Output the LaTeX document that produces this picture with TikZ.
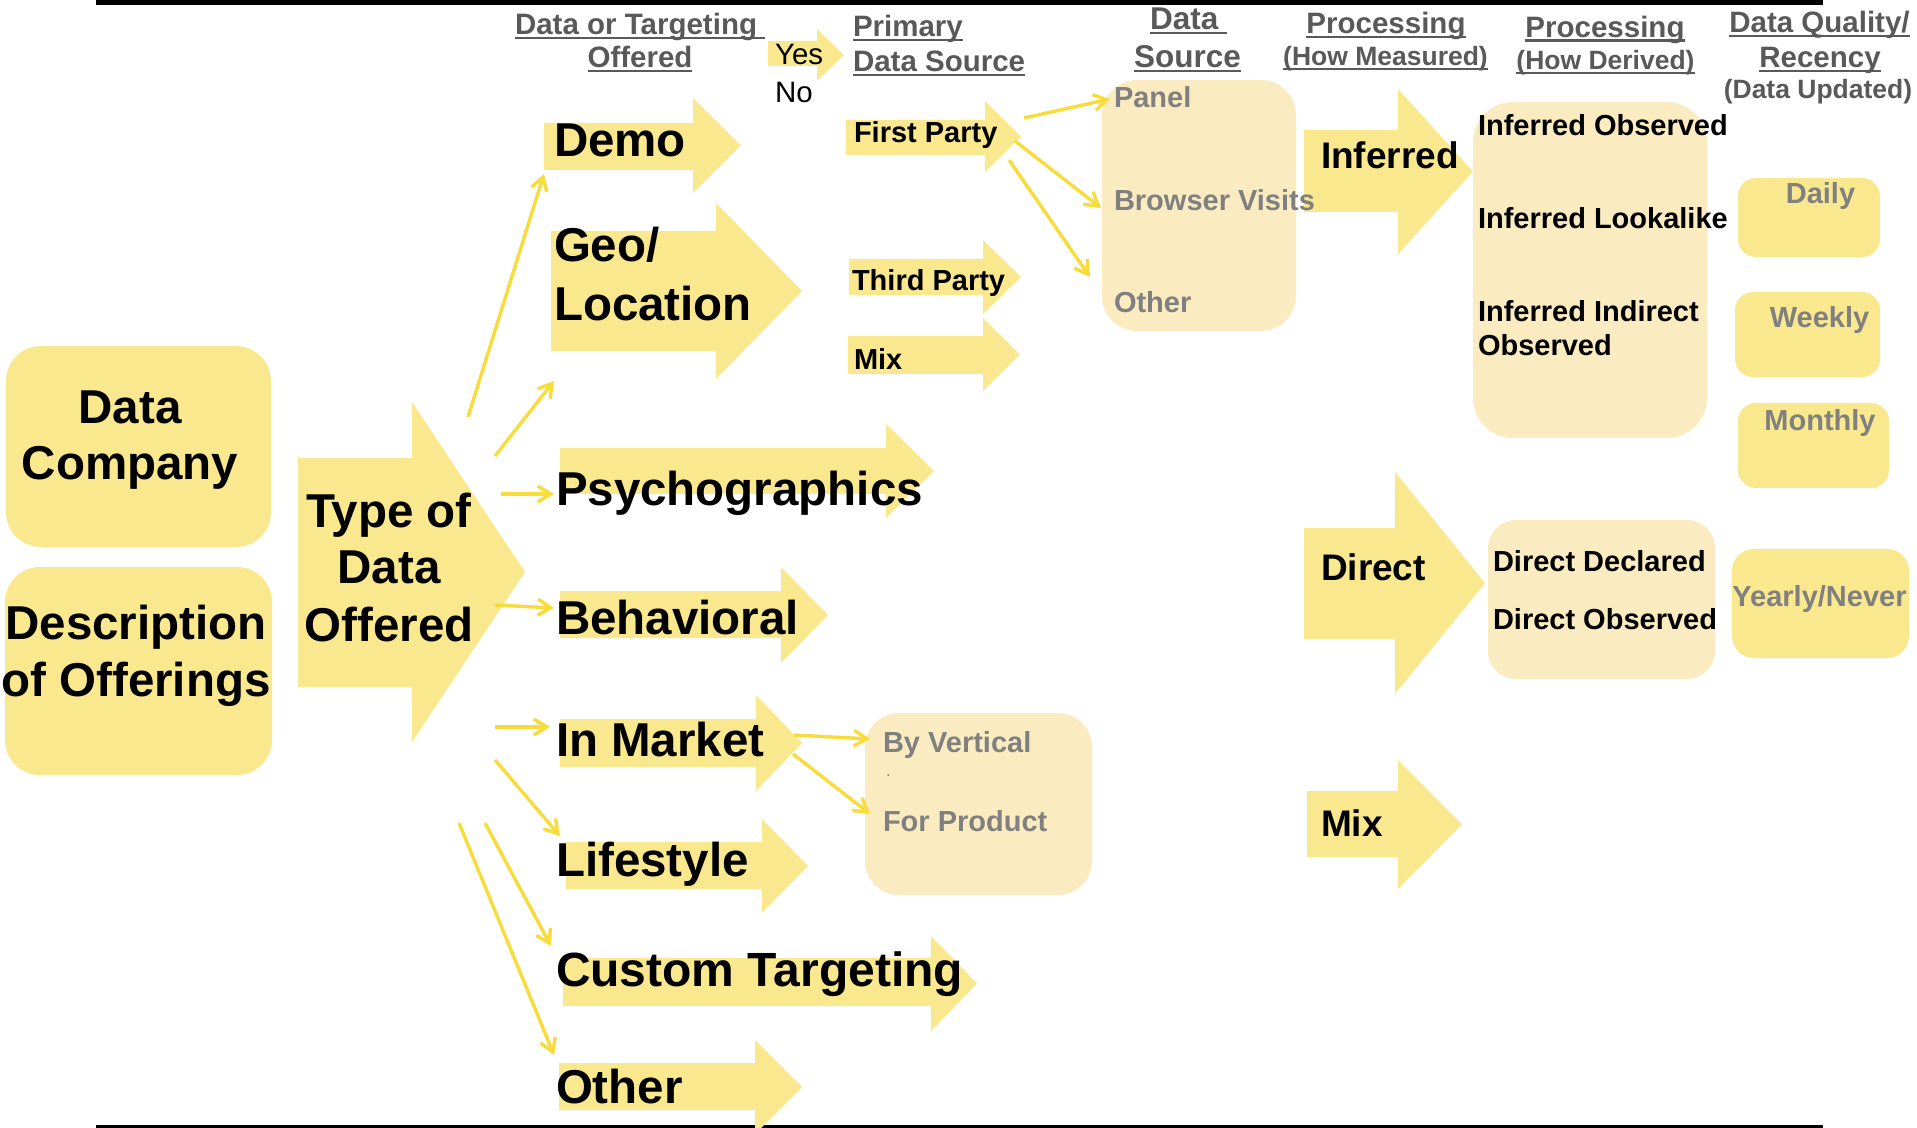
\documentclass[tikz,border=0pt]{standalone}
\usepackage{fontspec}
\setmainfont{Liberation Sans}
\usetikzlibrary{arrows.meta,fit}
\definecolor{yel}{RGB}{250,232,143}
\definecolor{cream}{RGB}{250,236,192}
\definecolor{lineyel}{RGB}{248,220,60}
\definecolor{hdgray}{RGB}{89,89,89}
\definecolor{txgray}{RGB}{128,128,128}
\newcommand\ulin[1]{\setbox0\hbox{#1}\rlap{\rule[-2.1pt]{\wd0}{1.2pt}}\box0}
\newcommand\fsz[1]{\fontsize{#1pt}{#1pt}\selectfont}
% name, x1, ytop, ybot, xhead, headtop, headbot, xtip
\newcommand\yarr[8]{%
  \fill[yel] (#2,#3) -- (#5,#3) -- (#5,#6) -- (#8,{(#6+#7)/2}) -- (#5,#7) -- (#5,#4) -- (#2,#4) -- cycle;
  \coordinate (#1) at (#2,{(#3+#4)/2});}
\begin{document}
\begin{tikzpicture}[x=0.5pt,y=-0.5pt,
  txt/.style={inner sep=0pt, outer sep=0pt, anchor=base west, xshift=1.5pt},
  ctxt/.style={inner sep=0pt, outer sep=0pt, anchor=base},
  big/.style={font=\fsz{23.75}\bfseries},
  med/.style={font=\fsz{18.5}\bfseries},
  sm/.style={font=\fsz{14.5}\bfseries},
  hd/.style={font=\fsz{14.75}\bfseries, text=hdgray},
  hdl/.style={font=\fsz{15.75}\bfseries, text=hdgray},
  hdp/.style={font=\fsz{13.25}\bfseries, text=hdgray},
  gr/.style={text=txgray},
  conn/.style={draw=lineyel, line width=1.7pt, -{Straight Barb[length=6.5pt,width=8pt]}},
  ybox/.style={fill=yel, inner sep=0pt, outer sep=0pt, draw=none},
  cbox/.style={fill=cream, inner sep=0pt, outer sep=0pt, draw=none},
]
\useasboundingbox (0,0) rectangle (1917,1128);

% frame lines
\draw[line width=2.35pt] (96,2.35) -- (1823,2.35);
\draw[line width=1.5pt] (96,1126.5) -- (1823,1126.5);

% yellow block arrows
\yarr{aYes}{768}{41}{66}{817}{29}{81}{844}
\yarr{aDemo}{544}{123}{170}{693}{98}{193}{741}
\yarr{aGeo}{551}{231}{351}{716}{203}{379}{802}
\yarr{aType}{298}{458}{687}{412}{402}{742}{525}
\yarr{aPsy}{560}{448}{494}{886}{424}{518}{934}
\yarr{aBeh}{560}{591}{638}{781}{567}{663}{828}
\yarr{aMkt}{560}{719}{767}{756}{695}{791}{802}
\yarr{aLife}{566}{842}{889}{762}{819}{913}{808}
\yarr{aCust}{563}{958}{1006}{931}{936}{1031}{977}
\yarr{aOth}{559}{1063}{1110}{755}{1040}{1134}{802}
\yarr{aFirst}{846}{120}{155}{985}{101}{172}{1021}
\yarr{aThird}{849}{259}{295}{983}{240}{314}{1021}
\yarr{aMixS}{848}{336}{374}{983}{318}{391}{1020}
\yarr{aInf}{1304}{130}{212}{1398}{89}{254}{1473}
\yarr{aDir}{1304}{528}{639}{1395}{472}{694}{1485}
\yarr{aMixR}{1307}{791}{857}{1398}{760}{889}{1462}

% rounded boxes
\node[ybox, rounded corners=17.5pt, fit={(6,346) (271,547)}] (bComp) {};
\node[ybox, rounded corners=17.5pt, fit={(5,567) (272,775)}] (bDesc) {};
\node[cbox, rounded corners=17.5pt, fit={(1102,80) (1296,331)}] (bSrc) {};
\node[cbox, rounded corners=20pt, fit={(1473,102) (1707,438)}] (bInf) {};
\node[cbox, rounded corners=14pt, fit={(1488,520) (1715,679)}] (bDir) {};
\node[cbox, rounded corners=17pt, fit={(865,713) (1092,895)}] (bMkt) {};
\node[ybox, rounded corners=9pt, fit={(1738,178) (1880,257)}] (bDaily) {};
\node[ybox, rounded corners=9pt, fit={(1735,292) (1880,377)}] (bWeek) {};
\node[ybox, rounded corners=9pt, fit={(1738,403) (1889,488)}] (bMonth) {};
\node[ybox, rounded corners=11pt, fit={(1732,549) (1909,658)}] (bYear) {};

% headers
\node[txt, hd] (hDT) at (512,35) {\ulin{Data or Targeting\ }};
\node[ctxt, hd] (hOff) at (640,68) {\ulin{Offered}};
\node[txt, font=\fsz{14.75}] (tYes) at (772,65) {Yes};
\node[txt, font=\fsz{14.75}] (tNo) at (772,103) {No};
\node[txt, hd] (hPri) at (850,37) {\ulin{Primary}};
\node[txt, hd] (hPDS) at (850,72) {\ulin{Data Source}};
\node[txt, hdl] (hData) at (1147,30) {\ulin{Data\ }};
\node[txt, hdl] (hSrc) at (1131,68) {\ulin{Source}};
\node[ctxt, hd] (hProc1) at (1386,34) {\ulin{Processing}};
\node[ctxt, hdp] (hMeas) at (1385.5,66) {\ulin{(How Measured)}};
\node[ctxt, hd] (hProc2) at (1605,37.5) {\ulin{Processing}};
\node[ctxt, hdp] (hDer) at (1605.5,70) {\ulin{(How Derived)}};
\node[ctxt, hd] (hQual) at (1819.5,33) {\ulin{Data Quality/}};
\node[ctxt, hd] (hRec) at (1820,68) {\ulin{Recency}};
\node[ctxt, hdp] (hUpd) at (1818,99) {(Data Updated)};

% left column
\node[ctxt, big] (tData) at (130,424) {Data};
\node[ctxt, big] (tComp) at (130,480) {Company};
\node[ctxt, big] (tDesc) at (136,639.5) {Description};
\node[ctxt, big] (tOffr) at (136,696) {of Offerings};
\node[ctxt, big] (tType) at (389,527) {Type of};
\node[ctxt, big] (tTData) at (389,583) {Data};
\node[ctxt, big] (tTOff) at (389,641) {Offered};

% categories
\node[txt, big] (tDemo) at (551,157) {Demo};
\node[txt, big] (tGeo) at (551,262) {Geo/};
\node[txt, big] (tLoc) at (551,321) {Location};
\node[txt, big] (tPsy) at (553,505) {Psychographics};
\node[txt, big] (tBeh) at (553,634) {Behavioral};
\node[txt, big] (tMkt) at (553,756) {In Market};
\node[txt, big] (tLife) at (553,876) {Lifestyle};
\node[txt, font=\fsz{24}\bfseries] (tCust) at (553,986) {Custom Targeting};
\node[txt, big] (tOth) at (553,1103) {Other};

% primary data source
\node[txt, sm] (tFirst) at (851,143) {First Party};
\node[txt, sm] (tThird) at (849,291) {Third Party};
\node[txt, sm] (tMixS) at (851,370) {Mix};

% data source box
\node[txt, sm, gr] (tPanel) at (1111,108) {Panel};
\node[txt, sm, gr] (tBrow) at (1111,211) {Browser Visits};
\node[txt, sm, gr] (tSOth) at (1111,313) {Other};

% in market box
\node[txt, sm, gr] (tVert) at (880,752) {By Vertical};
\node[txt, font=\fsz{8}, gr] (tDot) at (883,776) {.};
\node[txt, sm, gr] (tProd) at (880,831) {For Product};

% processing
\node[txt, med] (tInf) at (1318,169) {Inferred};
\node[txt, med] (tDir) at (1318,580) {Direct};
\node[txt, med] (tMixR) at (1318,836) {Mix};
\node[txt, sm] (tIO) at (1475,136) {Inferred Observed};
\node[txt, sm] (tIL) at (1475,229) {Inferred Lookalike};
\node[txt, sm] (tII) at (1475,322) {Inferred Indirect};
\node[txt, sm] (tIO2) at (1475,356) {Observed};
\node[txt, sm] (tDD) at (1490,571) {Direct Declared};
\node[txt, sm] (tDO) at (1490,629) {Direct Observed};

% recency
\node[ctxt, sm, gr] (tDaily) at (1820.5,204) {Daily};
\node[ctxt, sm, gr] (tWeek) at (1819.5,328) {Weekly};
\node[ctxt, sm, gr] (tMonth) at (1820,431) {Monthly};
\node[ctxt, sm, gr] (tYear) at (1819.5,606) {Yearly/Never};

% connector end points
\coordinate (s1) at (468,417);  \coordinate (e1) at (544,174);
\coordinate (s2) at (495,456);  \coordinate (e2) at (554,381);
\coordinate (s3) at (501,494);  \coordinate (e3) at (554,494);
\coordinate (s4) at (495,605);  \coordinate (e4) at (554,608);
\coordinate (s5) at (495,727);  \coordinate (e5) at (550,727);
\coordinate (s6) at (495,760);  \coordinate (e6) at (560,836);
\coordinate (s7) at (485,823);  \coordinate (e7) at (551,946);
\coordinate (s8) at (459,823);  \coordinate (e8) at (554,1055);
\coordinate (s9) at (794,735);  \coordinate (e9) at (870,739);
\coordinate (s10) at (793,754); \coordinate (e10) at (870,814);
\coordinate (s11) at (1024,118); \coordinate (e11) at (1110,99);
\coordinate (s12) at (1015,141); \coordinate (e12) at (1101,208);
\coordinate (s13) at (1009,160); \coordinate (e13) at (1090,277);

\foreach \i in {1,...,13} { \draw[conn] (s\i) -- (e\i); }
\end{tikzpicture}
\end{document}
